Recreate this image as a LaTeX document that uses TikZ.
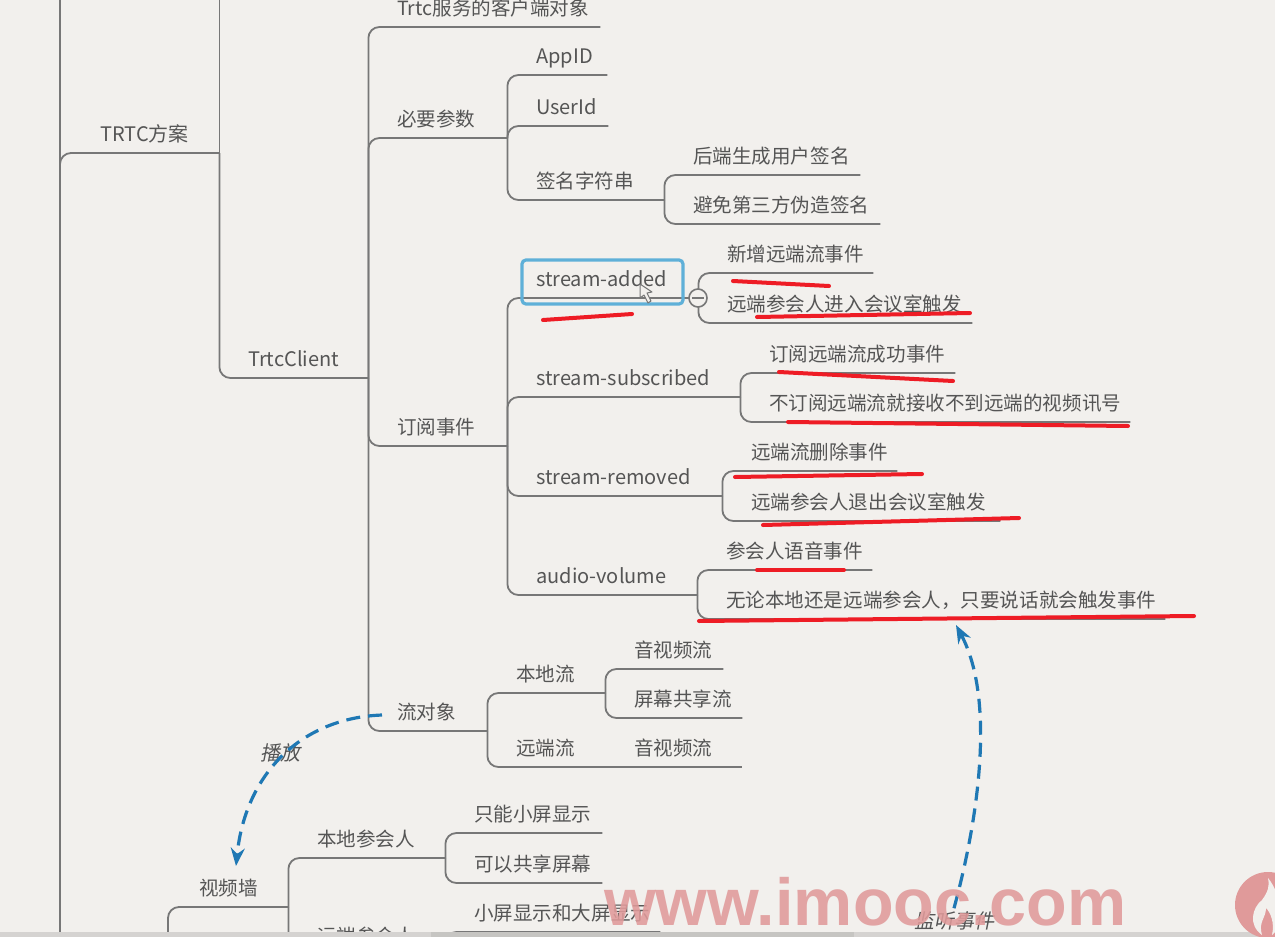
\documentclass[tikz,border=0pt]{standalone}
\usepackage{fontspec}
\setmainfont{Noto Sans CJK SC}
\newfontfamily\slantcjk[FakeSlant=0.2]{Noto Sans CJK SC}
\newfontfamily\markfont{Liberation Sans}
\usetikzlibrary{arrows.meta,calc}
\definecolor{paper}{HTML}{F2F0ED}
\definecolor{inkgray}{HTML}{555555}
\definecolor{linegray}{HTML}{777777}
\definecolor{markred}{HTML}{EE1C25}
\definecolor{dashblue}{HTML}{1F78B4}
\definecolor{selblue}{HTML}{5FB0D8}
\definecolor{wmpink}{HTML}{E09A9A}
\tikzset{
	topic/.style={
			anchor=south west, minimum width=#1, text width=#1pt-58pt,
			inner xsep=29pt, inner ysep=7.5pt, text height=14pt, text depth=4pt,
			align=left, text=inkgray, font=\fontsize{19.55}{24}\selectfont
		},
	latintopic/.style={topic=#1, font=\fontsize{20}{24}\selectfont},
	branch/.style={draw=linegray, line width=1.8pt, rounded corners=11pt},
	redmark/.style={draw=markred, line width=4pt, line cap=round},
	dasharrow/.style={draw=dashblue, line width=3.2pt, dash pattern=on 14pt off 8pt, -{Stealth[length=18pt,width=14pt]}},
	slantlabel/.style={text=inkgray, font=\slantcjk\fontsize{20}{24}\selectfont}
}
\begin{document}
\begin{tikzpicture}[x=1pt,y=-1pt]
	\useasboundingbox[fill=paper] (0,0) rectangle (1275,937);

	\coordinate (trunktop) at (60,0);
	\coordinate (trunkbot) at (60,960);
	\coordinate (clienttop) at (219,0);
	\coordinate (wallroot) at (168,960);

	\node[latintopic=159] (trtc) at (60,153) {\hspace*{11pt}TRTC方案};
	\node[latintopic=149] (client) at (219,378) {TrtcClient};

	\node[topic=232] (service) at (368,27) {Trtc服务的客户端对象};
	\node[topic=139] (params) at (368,138) {必要参数};
	\node[topic=139] (subscribe) at (368,446) {订阅事件};
	\node[topic=119] (streamobj) at (368,731) {流对象};

	\node[latintopic=100] (appid) at (507,75) {AppID};
	\node[latintopic=101] (userid) at (507,126) {UserId};
	\node[topic=157] (sign) at (507,200) {签名字符串};
	\node[topic=196] (signa) at (664,175) {后端生成用户签名};
	\node[topic=216] (signb) at (664,224) {避免第三方伪造签名};

	\node[latintopic=191] (added) at (507,298) {stream-added};
	\node[latintopic=233] (subscribed) at (507,397) {stream-subscribed};
	\node[latintopic=215] (removed) at (507,496) {stream-removed};
	\node[latintopic=190] (volume) at (507,595) {audio-volume};

	\node[topic=175] (addeda) at (698,273) {新增远端流事件};
	\node[topic=274] (addedb) at (698,323) {远端参会人进入会议室触发};
	\node[topic=215] (subscribeda) at (740,373) {订阅远端流成功事件};
	\node[topic=390] (subscribedb) at (740,422) {不订阅远端流就接收不到远端的视频讯号};
	\node[topic=175] (removeda) at (722,471) {远端流删除事件};
	\node[topic=278] (removedb) at (722,521) {远端参会人退出会议室触发};
	\node[topic=175] (volumea) at (697,570) {参会人语音事件};
	\node[topic=468] (volumeb) at (697,619) {无论本地还是远端参会人，只要说话就会触发事件};

	\node[topic=118] (local) at (487,693) {本地流};
	\node[topic=118] (remote) at (487,767) {远端流};
	\node[topic=118] (locala) at (605,669) {音视频流};
	\node[topic=137] (localb) at (605,718) {屏幕共享流};
	\node[topic=137] (remotea) at (605,767) {音视频流};

	\node[topic=120] (wall) at (168,907) {\hspace*{2pt}视频墙};
	\node[topic=157] (localuser) at (288,858) {本地参会人};
	\node[topic=157] (remoteuser) at (288,955) {远端参会人};
	\node[topic=157] (usera) at (445,833) {只能小屏显示};
	\node[topic=157] (userb) at (445,883) {可以共享屏幕};
	\node[topic=215] (userc) at (445,932) {小屏显示和大屏显示};

	\draw[branch] (trunktop) -- (trunkbot);
	\draw[branch] (trunkbot) |- (trtc.south east);
	\draw[branch] (trtc.south east) -- (trtc.south east |- clienttop);
	\draw[branch] (trtc.south east) |- (client.south east);

	\draw[branch] (client.south east) |- (service.south east);
	\draw[branch] (client.south east) |- (params.south east);
	\draw[branch] (client.south east) |- (subscribe.south east);
	\draw[branch] (client.south east) |- (streamobj.south east);

	\draw[branch] (params.south east) |- (appid.south east);
	\draw[branch] (params.south east) |- (userid.south east);
	\draw[branch] (params.south east) |- (sign.south east);
	\draw[branch] (sign.south east) |- (signa.south east);
	\draw[branch] (sign.south east) |- (signb.south east);

	\draw[branch] (subscribe.south east) |- (added.south east);
	\draw[branch] (subscribe.south east) |- (subscribed.south east);
	\draw[branch] (subscribe.south east) |- (removed.south east);
	\draw[branch] (subscribe.south east) |- (volume.south east);

	\draw[branch] (added.south east) |- (addeda.south east);
	\draw[branch] (added.south east) |- (addedb.south east);
	\draw[branch] (subscribed.south east) |- (subscribeda.south east);
	\draw[branch] (subscribed.south east) |- (subscribedb.south east);
	\draw[branch] (removed.south east) |- (removeda.south east);
	\draw[branch] (removed.south east) |- (removedb.south east);
	\draw[branch] (volume.south east) |- (volumea.south east);
	\draw[branch] (volume.south east) |- (volumeb.south east);

	\draw[branch] (streamobj.south east) |- (local.south east);
	\draw[branch] (streamobj.south east) |- (remote.south east);
	\draw[branch] (local.south east) |- (locala.south east);
	\draw[branch] (local.south east) |- (localb.south east);
	\draw[branch] (remote.south east) -- (remotea.south east);

	\draw[branch] (wallroot) |- (wall.south east);
	\draw[branch] (wall.south east) |- (localuser.south east);
	\draw[branch] (wall.south east) |- (remoteuser.south east);
	\draw[branch] (localuser.south east) |- (usera.south east);
	\draw[branch] (localuser.south east) |- (userb.south east);
	\draw[branch] (remoteuser.south east) |- (userc.south east);

	\node[draw=selblue, line width=3.2pt, rounded corners=4pt, minimum width=161pt, minimum height=44pt, inner sep=0pt] (addedbox) at (602.5,282) {};
	\node[circle, draw=linegray, fill=paper, line width=1.6pt, minimum size=18pt, inner sep=0pt] (fold) at (698,298) {};
	\draw[linegray, line width=1.6pt] ($(fold.west)+(4pt,0)$) -- ($(fold.east)+(-4pt,0)$);

	\draw[redmark] (733,281) -- (829,286);
	\draw[redmark] (757,317) -- (970,313);
	\draw[redmark] (543,320) -- (632,314);
	\draw[redmark] (779,372) -- (953,381);
	\draw[redmark] (788,422) -- (1128,426);
	\draw[redmark] (735,477) -- (922,474);
	\draw[redmark] (763,525) -- (1019,518);
	\draw[redmark] (757,570) -- (844,570);
	\draw[redmark] (699,621) -- (1194,616);

	\draw[fill=paper, draw=linegray, line width=1pt, line join=round] (640,284) -- (640,298) -- (644,295) -- (648,303) -- (651,301) -- (647,293) -- (652,292) -- cycle;

	\coordinate (playstart) at (382,715);
	\coordinate (walltip) at (236,866);
	\coordinate (listentip) at (956,625);
	\node[slantlabel] (play) at (280,753) {播放};
	\node[slantlabel] (listen) at (954,921) {监听事件};
	\draw[dasharrow] (playstart) .. controls (300,718) and (245,775) .. (walltip);
	\draw[dasharrow] (listen.north) .. controls (978,820) and (996,700) .. (listentip);

	\fill[black!12!paper] (0,932) rectangle (1275,937);
	\fill[black!18!paper] (431,932) rectangle (854,937);

	\node[text=wmpink, text opacity=.88, font=\markfont\bfseries\fontsize{66.5}{72}\selectfont, inner sep=0pt, anchor=base west] (watermark) at (604,925) {www.imooc.com};
	\fill[wmpink] (1268,905) circle (33pt);
	\fill[paper] (1262,935) .. controls (1248,925) and (1252,908) .. (1262,900) .. controls (1268,892) and (1270,885) .. (1268,878) .. controls (1282,895) and (1285,925) .. (1272,935) .. controls (1275,922) and (1270,912) .. (1266,908) .. controls (1266,918) and (1258,922) .. (1262,935) -- cycle;
\end{tikzpicture}
\end{document}
